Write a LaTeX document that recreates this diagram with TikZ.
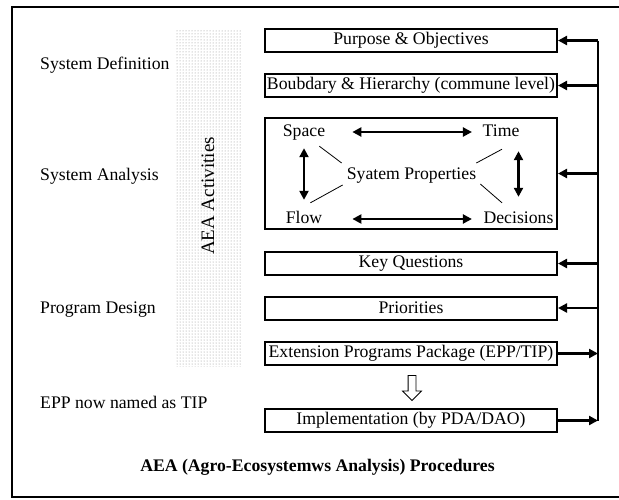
\documentclass[tikz,border=0pt]{standalone}
\usepackage{fontspec}
\setmainfont{Liberation Serif}
\usepackage{tikz}
\usetikzlibrary{arrows.meta,shapes,patterns}
\tikzstyle{stepbox}=[draw,line width=2pt,minimum width=292pt,minimum height=23pt,inner sep=0pt]
\tikzstyle{stage}=[anchor=west,inner sep=0pt]
\tikzstyle{prop}=[inner sep=0pt,text height=12pt,text depth=4pt]
\tikzstyle{link}=[draw,line width=2.2pt,-{Triangle[length=9pt,width=9pt]}]
\tikzstyle{both}=[draw,line width=2.2pt,{Triangle[length=9pt,width=9pt]}-{Triangle[length=9pt,width=9pt]}]
\tikzstyle{tie}=[draw,line width=0.8pt]

\begin{document}
\begin{tikzpicture}[x=1pt,y=-1pt,font=\fontsize{17.7}{21}\selectfont]
    \useasboundingbox (0,0) rectangle (619,499);
    % Outer frame, open on the right
    \draw[line width=2pt] (625,7) -| (12,497) -- (625,497);

    % Shaded band with the activities label
    \path[pattern=dots,pattern color=gray!90] (175,29) rectangle (242,366);
    \node[rotate=90,font=\fontsize{19}{22}\selectfont] (aea) at (208,196) {AEA Activities};

    % Stage names on the left
    \foreach \pos/\name/\txt in {{(40,65)/sdef/System Definition}, {(40,176)/sana/System Analysis}, {(40,310)/pdes/Program Design}, {(40,402)/note/EPP now named as TIP}}
        \node[stage] (\name) at \pos {\txt};

    % The step boxes
    \foreach \pos/\name/\txt in {{(411,40.5)/purp/Purpose \& Objectives}, {(411,85.5)/bound/Boubdary \& Hierarchy (commune level)}, {(411,263.5)/keyq/Key Questions}, {(411,308)/prio/Priorities}, {(411,353.5)/ext/{Extension Programs Package (EPP/TIP)}}, {(411,420.5)/impl/{Implementation (by PDA/DAO)}}}
        \node[stepbox] (\name) at \pos {\txt};
    \node[stepbox,minimum height=111pt] (sys) at (411,173.5) {};

    % System properties inside the big box
    \foreach \pos/\name/\txt in {{(304,132)/space/Space}, {(501,132)/time/Time}, {(304,219)/flow/Flow}, {(518.5,219)/dec/Decisions}, {(411.5,175)/props/Syatem Properties}}
        \node[prop] (\name) at \pos {\txt};
    \path[both,shorten <=27pt,shorten >=10.5pt] (space.east) -- (time.west);
    \path[both,shorten <=30pt,shorten >=11.5pt] (flow.east) -- (dec.west);
    \path[both,shorten <=8pt,shorten >=11pt] (space.south) -- (flow.north);
    \path[both,shorten <=11pt,shorten >=14pt] (dec.north |- time.south) -- (dec.north);
    \path[tie] ([shift={(-6,6)}]space.south east) -- ([shift={(-5,-12)}]props.west);
    \path[tie] ([shift={(-12,-8)}]flow.north east) -- ([shift={(-4,10)}]props.west);
    \path[tie] ([shift={(0,-12)}]props.east) -- ([shift={(1,9)}]time.south);
    \path[tie] ([shift={(4,9)}]props.east) -- ([shift={(-16.5,-8)}]dec.north);

    % Hollow arrow from the package to its implementation
    \node[single arrow,draw,line width=0.8pt,shape border rotate=270,minimum width=18pt,minimum height=25pt,inner sep=3.5pt,single arrow head extend=5.5pt] (down) at (412,386) {};

    % Feedback rail on the right
    \coordinate (railtop) at (598,40.5);
    \coordinate (railbot) at (598,420.5);
    \draw[line width=1.2pt] (railtop) -- (railbot);
    \foreach \b in {purp,bound,sys,keyq,prio}
        \path[link] (\b.east -| railtop) -- (\b.east);
    \foreach \b in {ext,impl}
        \path[link] (\b.east) -- (\b.east -| railtop);

    \node[font=\bfseries\fontsize{17.7}{21}\selectfont] (title) at (317.5,467) {AEA (Agro-Ecosystemws Analysis) Procedures};
\end{tikzpicture}
\end{document}
